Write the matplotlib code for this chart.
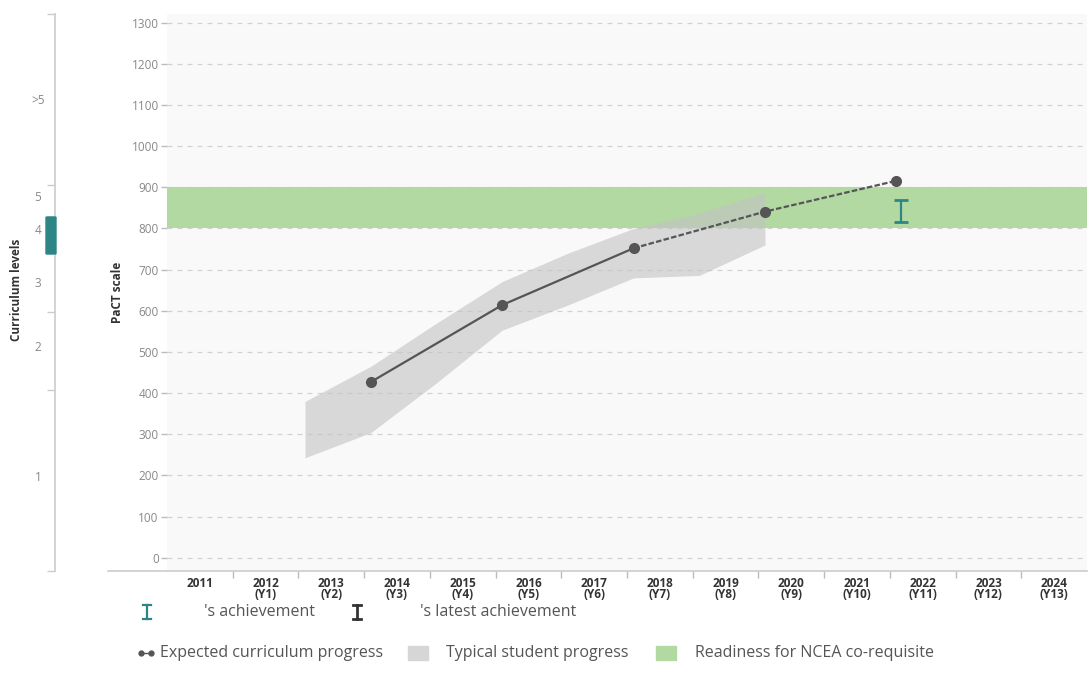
import matplotlib
matplotlib.use("Agg")
import matplotlib.pyplot as plt
import matplotlib.transforms as mtransforms
from matplotlib.patches import FancyBboxPatch, Rectangle
from matplotlib.lines import Line2D

plt.rcParams['font.family'] = ['Open Sans', 'DejaVu Sans']

# x axis categories
years = list(range(2011, 2025))
year_labels = ["2011"] + [f"{y}\n(Y{i})" for i, y in enumerate(years[1:], start=1)]

# expected curriculum progress (solid up to 2018, projected after)
expected_x = [2014.1, 2016.1, 2018.1, 2020.1, 2022.1]
expected_y = [427, 614, 752, 841, 916]
n_solid = 3

# typical student progress band
typical_x = [2013.1, 2014.1, 2015.1, 2016.1, 2017.1, 2018.1, 2019.1, 2020.1]
typical_low = [243, 304, 425, 553, 614, 680, 686, 760]
typical_high = [380, 465, 570, 671, 740, 800, 837, 888]

# readiness for NCEA co-requisite
readiness = (800, 900)

# student's achievement range
achieve_x = 2022.17
achieve_low = 815
achieve_high = 868

# curriculum levels axis (in PaCT units)
curr_ticks = [1321, 906, 597, 408, -32]
curr_labels = [">5", "5", "4", "3", "2", "1"]
curr_label_pos = [1112, 876, 796, 667, 510, 196]
curr_current = (738, 828)

TEAL = "#2e8585"
DARK = "#555555"
W, H = 1089, 691

fig = plt.figure(figsize=(W / 100, H / 100), dpi=100)
fig.patch.set_facecolor("white")

top_px, bot_px = 14, 571
ax = fig.add_axes([167 / W, 1 - bot_px / H, 920 / W, (bot_px - top_px) / H])
ax.set_facecolor("#f9f9f9")
ax.set_xlim(2011, 2025)
ax.set_ylim(-32, 1321)

# grid
for v in range(0, 1400, 100):
    ax.axhline(v, color="#d2d2d2", lw=0.9, ls=(0, (4, 4)), zorder=1)

ax.axhspan(readiness[0], readiness[1], color="#b3d9a3", zorder=2, lw=0)
ax.fill_between(typical_x, typical_low, typical_high, color="#c2c2c2",
                alpha=0.6, lw=0, zorder=3)

ax.plot(expected_x[:n_solid], expected_y[:n_solid], color=DARK, lw=1.6, zorder=4)
ax.plot(expected_x[n_solid - 1:], expected_y[n_solid - 1:], color=DARK, lw=1.6,
        ls=(0, (2.5, 1)), zorder=4)
ax.plot(expected_x, expected_y, "o", color=DARK, ms=7, zorder=5)

ax.errorbar([achieve_x], [(achieve_low + achieve_high) / 2],
            yerr=[[(achieve_high - achieve_low) / 2]], fmt="none",
            ecolor=TEAL, elinewidth=1.6, capsize=5, capthick=2, zorder=6)

# axes styling
for s in ["top", "right", "left", "bottom"]:
    ax.spines[s].set_visible(False)
ax.add_line(Line2D([-59 / 920, 1], [0, 0], transform=ax.transAxes,
                   color="#cccccc", lw=1.2, clip_on=False))

ax.set_yticks(range(0, 1400, 100))
ax.tick_params(axis="y", length=4, width=1, color="#bbbbbb", labelsize=8.5,
               labelcolor="#888888", pad=2)

ax.set_xticks(years[1:])
ax.set_xticklabels([])
ax.set_xticks([y + 0.5 for y in years], minor=True)
ax.set_xticklabels(year_labels, minor=True, fontsize=8.5, fontweight="bold",
                   color="#333333", linespacing=0.85)
ax.tick_params(axis="x", which="major", length=5, width=1, color="#bbbbbb")
ax.tick_params(axis="x", which="minor", length=0, pad=4)

ax.set_ylabel("PaCT scale", fontsize=8.5, fontweight="bold", color="#333333")
ax.yaxis.set_label_coords(-43 / 920, 0.5)

# curriculum levels axis
ax2 = fig.add_axes([0, 1 - bot_px / H, 55 / W, (bot_px - top_px) / H])
ax2.set_ylim(ax.get_ylim())
ax2.set_xlim(0, 1)
ax2.patch.set_visible(False)
for s in ["top", "bottom", "left"]:
    ax2.spines[s].set_visible(False)
ax2.spines["right"].set_color("#cccccc")
ax2.spines["right"].set_linewidth(1.2)
ax2.set_xticks([])
ax2.yaxis.tick_right()
ax2.set_yticks(curr_ticks)
ax2.set_yticklabels([])
ax2.tick_params(axis="y", direction="in", length=6, width=1, color="#cccccc")
for lab, pos in zip(curr_labels, curr_label_pos):
    ax2.text(38 / 55, pos, lab, ha="center", va="center", fontsize=8.5, color="#888888")
ax2.add_patch(FancyBboxPatch((46 / 55, curr_current[0]), 10 / 55,
                             curr_current[1] - curr_current[0],
                             boxstyle="round,pad=0,rounding_size=0.03",
                             mutation_aspect=40,
                             transform=mtransforms.blended_transform_factory(ax2.transAxes, ax2.transData),
                             color=TEAL, clip_on=False, zorder=5))
fig.text(17 / W, 1 - 290 / H, "Curriculum levels", rotation=90, ha="center",
         va="center", fontsize=8.5, fontweight="bold", color="#333333")

# legend
def px(x, y):
    return x / W, 1 - y / H

def ibar(x, y, color, h=14, w=8, lw=1.6):
    for xs, ys in [([x, x], [y - h / 2, y + h / 2]),
                   ([x - w / 2, x + w / 2], [y - h / 2, y - h / 2]),
                   ([x - w / 2, x + w / 2], [y + h / 2, y + h / 2])]:
        fig.add_artist(Line2D([a / W for a in xs], [1 - b / H for b in ys],
                              color=color, lw=lw))

LEG = "#555555"
FS = 11.5
ibar(147, 612, TEAL)
fig.text(*px(204, 612), "'s achievement", fontsize=FS, color=LEG, va="center")
ibar(357, 612, "#333333", lw=2)
fig.text(*px(420, 612), "'s latest achievement", fontsize=FS, color=LEG, va="center")

fig.add_artist(Line2D([141 / W, 151 / W], [1 - 653 / H] * 2, color=DARK, lw=1,
                      marker="o", ms=3.5))
fig.text(*px(160, 653), "Expected curriculum progress", fontsize=FS, color=LEG, va="center")
fig.add_artist(Rectangle(px(408, 660), 20 / W, 14 / H, color="#d6d6d6"))
fig.text(*px(446, 653), "Typical student progress", fontsize=FS, color=LEG, va="center")
fig.add_artist(Rectangle(px(656, 660), 20 / W, 14 / H, color="#b3d9a3"))
fig.text(*px(695, 653), "Readiness for NCEA co-requisite", fontsize=FS, color=LEG, va="center")

fig.savefig("out.png", dpi=100, facecolor="white")
